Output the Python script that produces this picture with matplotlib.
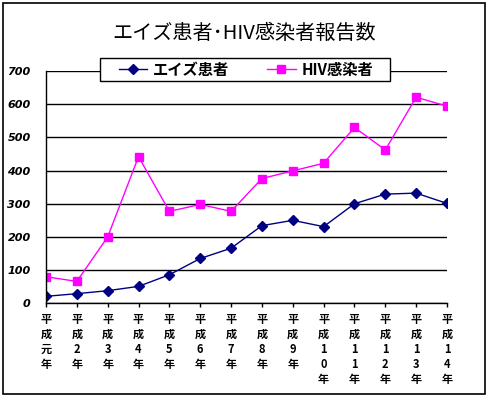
import matplotlib
matplotlib.use("Agg")
import matplotlib.pyplot as plt
from matplotlib.patches import Rectangle

plt.rcParams['font.family'] = ['Noto Sans CJK JP', 'DejaVu Sans']

title = "エイズ患者･HIV感染者報告数"
years = ["平成元年", "平成2年", "平成3年", "平成4年", "平成5年", "平成6年", "平成7年",
         "平成8年", "平成9年", "平成10年", "平成11年", "平成12年", "平成13年", "平成14年"]
aids = [21, 29, 38, 51, 86, 135, 166, 234, 250, 231, 300, 329, 332, 301]
hiv = [80, 66, 200, 442, 277, 298, 277, 376, 399, 422, 530, 462, 621, 594]
series_names = ["エイズ患者", "HIV感染者"]
yticks = [0, 100, 200, 300, 400, 500, 600, 700]

fig = plt.figure(figsize=(4.89, 3.98), dpi=100)
fig.patches.append(Rectangle((3/489, 1-394/398), 482/489, 391/398, transform=fig.transFigure,
                             fill=False, edgecolor='black', linewidth=1.2))
ax = fig.add_axes([46/489, 1-303.3/398, 401/489, 232.3/398])

x = list(range(len(years)))
ax.plot(x, aids, color='#000080', marker='D', markersize=5, linewidth=1.0, label=series_names[0])
ax.plot(x, hiv, color='#FF00FF', marker='s', markersize=5.5, linewidth=1.0, label=series_names[1])

ax.set_xlim(0, len(years)-1)
ax.set_ylim(0, 700)
ax.set_yticks(yticks)
ax.set_yticklabels([str(v) for v in yticks], fontsize=8, fontweight='bold', fontstyle='italic',
                   family='DejaVu Sans')
ax.yaxis.grid(True, color='black', linewidth=1.0)
ax.set_axisbelow(True)
ax.tick_params(axis='y', length=0, pad=11)
ax.set_xticks(x)
ax.set_xticklabels(["\n".join(list(s)) for s in years], fontsize=8, fontweight='bold',
                   linespacing=1.2, va='top')
ax.tick_params(axis='x', length=3, width=1, direction='out', pad=4)
ax.spines['top'].set_visible(False)
ax.spines['right'].set_visible(False)
for s in ['left', 'bottom']:
    ax.spines[s].set_linewidth(1.0)
ax.set_facecolor('white')

# legend frame
fig.patches.append(Rectangle((100/489, 1-81/398), 290/489, 23/398, transform=fig.transFigure,
                             facecolor='white', edgecolor='black', linewidth=1.0, zorder=5))
leg = fig.legend(loc='center', bbox_to_anchor=(246/489, 1-69.5/398), ncol=2, frameon=False,
                 borderpad=0.2, columnspacing=2.5, handlelength=1.85, handletextpad=0.4,
                 prop={'size': 11, 'weight': 'bold'})
leg.set_zorder(6)

fig.text(244/489, 1-33/398, title, ha='center', va='center', fontsize=14.5)

fig.savefig("out.png", dpi=100, facecolor='white')
